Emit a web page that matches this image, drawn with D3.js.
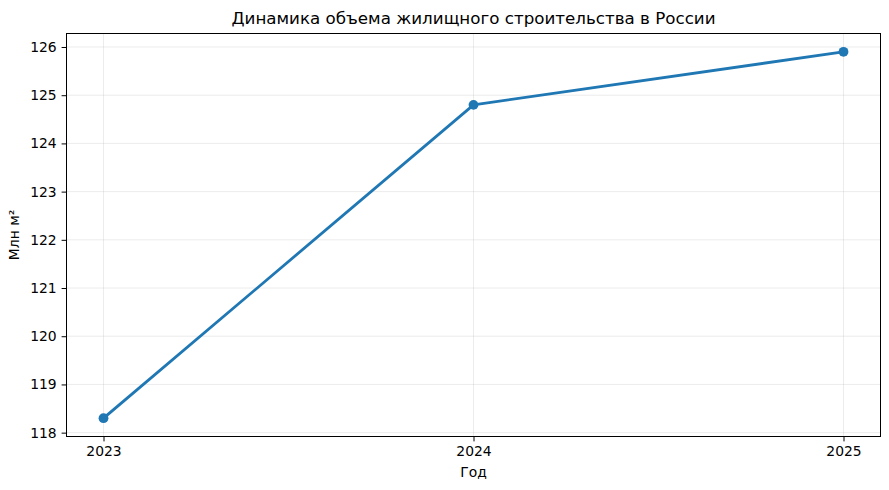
<!DOCTYPE html>
<html>
<head>
<meta charset="utf-8">
<script src="https://cdn.jsdelivr.net/npm/d3@7"></script>
<style>
  body { margin: 0; background: #fff; }
  svg text { font-family: 'DejaVu Sans', sans-serif; fill: #000; }
</style>
</head>
<body>
<div id="chart-container"></div>
<script>
var years = [2023, 2024, 2025];
var volumes = [118.3, 124.8, 125.9];
var yTicks = [118, 119, 120, 121, 122, 123, 124, 125, 126];

var svgWidth = 889,
    svgHeight = 490,
    margin = { top: 33.5, right: 8.5, bottom: 53.5, left: 66.5 },
    width = svgWidth - margin.left - margin.right,
    height = svgHeight - margin.top - margin.bottom;

var svg = d3.select('#chart-container').append('svg')
  .attr('width', svgWidth).attr('height', svgHeight);

var g = svg.append('g').attr('transform', 'translate(' + margin.left + ',' + margin.top + ')');

var data = years.map(function(y, i) { return { year: y, value: volumes[i] }; });

// matplotlib-like 5% margins
var xPad = (d3.max(years) - d3.min(years)) * 0.05;
var yPad = (d3.max(volumes) - d3.min(volumes)) * 0.05;
var x = d3.scaleLinear().domain([d3.min(years) - xPad, d3.max(years) + xPad]).range([0, width]);
var y = d3.scaleLinear().domain([d3.min(volumes) - yPad, d3.max(volumes) + yPad]).range([height, 0]);

// grid
g.append('g').selectAll('line').data(years).enter().append('line')
  .attr('x1', function(d) { return x(d); }).attr('x2', function(d) { return x(d); })
  .attr('y1', 0).attr('y2', height)
  .attr('stroke', '#b0b0b0').attr('stroke-opacity', 0.3).attr('stroke-width', 0.8);
g.append('g').selectAll('line').data(yTicks).enter().append('line')
  .attr('y1', function(d) { return y(d); }).attr('y2', function(d) { return y(d); })
  .attr('x1', 0).attr('x2', width)
  .attr('stroke', '#b0b0b0').attr('stroke-opacity', 0.3).attr('stroke-width', 0.8);

// axes
var xAxis = g.append('g').attr('transform', 'translate(0,' + height + ')')
  .call(d3.axisBottom(x).tickValues(years).tickFormat(d3.format('d')).tickSizeInner(4.9).tickSizeOuter(0).tickPadding(4.9));
var yAxis = g.append('g')
  .call(d3.axisLeft(y).tickValues(yTicks).tickFormat(d3.format('d')).tickSizeInner(4.9).tickSizeOuter(0).tickPadding(4.9));
[xAxis, yAxis].forEach(function(a) {
  a.select('.domain').remove();
  a.selectAll('line').attr('stroke', '#000').attr('stroke-width', 1);
  a.selectAll('text').style('font-size', '13.9px').style('font-family', "'DejaVu Sans', sans-serif");
});

// frame
g.append('rect').attr('width', width).attr('height', height)
  .attr('fill', 'none').attr('stroke', '#000').attr('stroke-width', 1);

var line = d3.line()
  .x(function(d) { return x(d.year); })
  .y(function(d) { return y(d.value); });

g.append('path').datum(data)
  .attr('fill', 'none').attr('stroke', '#1f77b4')
  .attr('stroke-width', 2.8).attr('stroke-linejoin', 'round').attr('stroke-linecap', 'square')
  .attr('d', line);

g.selectAll('circle').data(data).enter().append('circle')
  .attr('cx', function(d) { return x(d.year); })
  .attr('cy', function(d) { return y(d.value); })
  .attr('r', 4.9).attr('fill', '#1f77b4');

// labels
svg.append('text')
  .attr('x', margin.left + width / 2).attr('y', 24)
  .attr('text-anchor', 'middle').style('font-size', '16.7px')
  .text('Динамика объема жилищного строительства в России');

svg.append('text')
  .attr('x', margin.left + width / 2).attr('y', 477)
  .attr('text-anchor', 'middle').style('font-size', '13.9px')
  .text('Год');

svg.append('text')
  .attr('transform', 'translate(19,' + (margin.top + height / 2) + ') rotate(-90)')
  .attr('text-anchor', 'middle').style('font-size', '13.9px')
  .text('Млн м²');
</script>
</body>
</html>
